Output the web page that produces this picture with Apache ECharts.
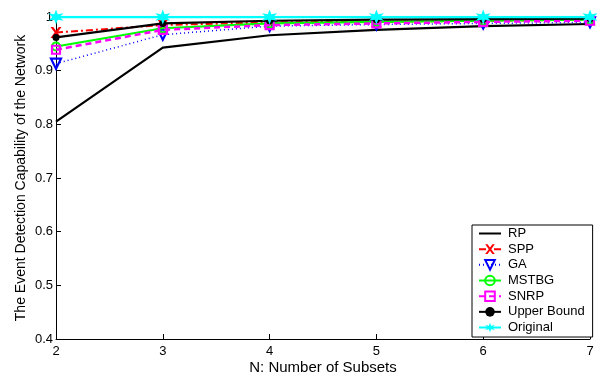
<!DOCTYPE html>
<html><head><meta charset="utf-8">
<script src="https://cdn.jsdelivr.net/npm/echarts@6/dist/echarts.min.js"></script>
<style>html,body{margin:0;padding:0;background:#fff}#c{width:610px;height:378px}</style>
</head><body><div id="c"></div>
<script>
const categories = [2, 3, 4, 5, 6, 7];
const seriesNames = ['RP', 'SPP', 'GA', 'MSTBG', 'SNRP', 'Upper Bound', 'Original'];
const rp = [0.805, 0.943, 0.966, 0.976, 0.983, 0.987];
const spp = [0.971, 0.985, 0.990, 0.991, 0.993, 0.995];
const ga = [0.913, 0.967, 0.983, 0.986, 0.988, 0.990];
const mstbg = [0.945, 0.979, 0.988, 0.991, 0.993, 0.995];
const snrp = [0.939, 0.976, 0.985, 0.988, 0.991, 0.993];
const upper = [0.962, 0.988, 0.993, 0.995, 0.996, 0.997];
const original = [1, 1, 1, 1, 1, 1];
const yTicks = [0.4, 0.5, 0.6, 0.7, 0.8, 0.9, 1];

const FONT = 'Liberation Sans';
const crossPath = 'path://M0,0 L2.5,0 L5,3 L7.5,0 L10,0 L6.3,4.5 L10,9 L7.5,9 L5,6 L2.5,9 L0,9 L3.7,4.5 Z';
const starPath = 'path://M5,0 L6.2,3.2 L10,2.5 L7.5,5 L10,7.5 L6.2,6.8 L5,10 L3.8,6.8 L0,7.5 L2.5,5 L0,2.5 L3.8,3.2 Z';
const dataSets = [rp, spp, ga, mstbg, snrp, upper, original];
const styles = [
  {color:'#000000', type:'solid', symbol:'none', size:0, width:2.2},
  {color:'#ff0000', type:[7,3,2,3], symbol:crossPath, size:11, width:2},
  {color:'#0000ff', type:[1,3], symbol:'triangle', size:10, width:1.5, rotate:180, hollow:true},
  {color:'#00ff00', type:'solid', symbol:'circle', size:8, width:2.2, hollow:true},
  {color:'#ff00ff', type:[6,4], symbol:'rect', size:8, width:2.5, hollow:true},
  {color:'#000000', type:'solid', symbol:'circle', size:7, width:2.2},
  {color:'#00ffff', type:'solid', symbol:starPath, size:15, width:2.5}
];
const series = seriesNames.map((n, i) => {
  const s = styles[i];
  return {
    name: n, type: 'line',
    data: categories.map((c, k) => [c, dataSets[i][k]]),
    symbol: s.symbol === 'none' ? 'circle' : s.symbol,
    symbolSize: s.size, symbolRotate: s.rotate || 0,
    showSymbol: s.symbol !== 'none',
    lineStyle: {color: s.color, type: s.type, width: s.width},
    itemStyle: s.hollow ? {color: 'rgba(255,255,255,0)', borderColor: s.color, borderWidth: 2.2}
                        : {color: s.color, borderColor: s.color, borderWidth: 0},
    emphasis: {disabled: true}, animation: false, z: 2 + i
  };
});
const legendData = seriesNames.map((n, i) => i === 0 ? {name: n, itemStyle: {opacity: 0}} : {name: n});
const chart = echarts.init(document.getElementById('c'), null, {renderer: 'canvas'});
chart.setOption({
  animation: false,
  grid: {left: 56, right: 20, top: 17, bottom: 39, containLabel: false, outerBoundsMode: 'none'},
  xAxis: {
    type: 'value', min: 2, max: 7, interval: 1,
    name: 'N: Number of Subsets', nameLocation: 'middle', nameGap: 21, nameMoveOverlap: false,
    nameTextStyle: {fontFamily: FONT, fontSize: 15, color: '#000'},
    axisLine: {lineStyle: {color: '#000', width: 1}},
    axisTick: {inside: true, length: 5, lineStyle: {color: '#000'}},
    axisLabel: {fontFamily: FONT, fontSize: 13, color: '#000', margin: 6},
    splitLine: {show: false}
  },
  yAxis: {
    type: 'value', min: 0.4, max: 1, interval: 0.1,
    name: 'The Event Detection Capability of the Network', nameLocation: 'middle', nameGap: 28, nameMoveOverlap: false,
    nameTextStyle: {fontFamily: FONT, fontSize: 14, color: '#000'},
    axisLine: {show: true, lineStyle: {color: '#000', width: 1}},
    axisTick: {show: true, inside: true, length: 5, lineStyle: {color: '#000'}},
    axisLabel: {fontFamily: FONT, fontSize: 13, color: '#000', margin: 3,
      formatter: v => { const t = yTicks.find(x => Math.abs(x - v) < 1e-6); return t === undefined ? '' : String(t); }},
    splitLine: {show: false}
  },
  legend: {
    orient: 'vertical', left: 472, top: 225,
    padding: [2, 8, 3, 6], itemGap: 2.67, itemWidth: 22, itemHeight: 12,
    borderColor: '#000', borderWidth: 1, backgroundColor: '#fff',
    textStyle: {fontFamily: FONT, fontSize: 13, lineHeight: 12, color: '#000', padding: [0, 0, 0, 2]},
    data: legendData
  },
  series: series
});
</script></body></html>
